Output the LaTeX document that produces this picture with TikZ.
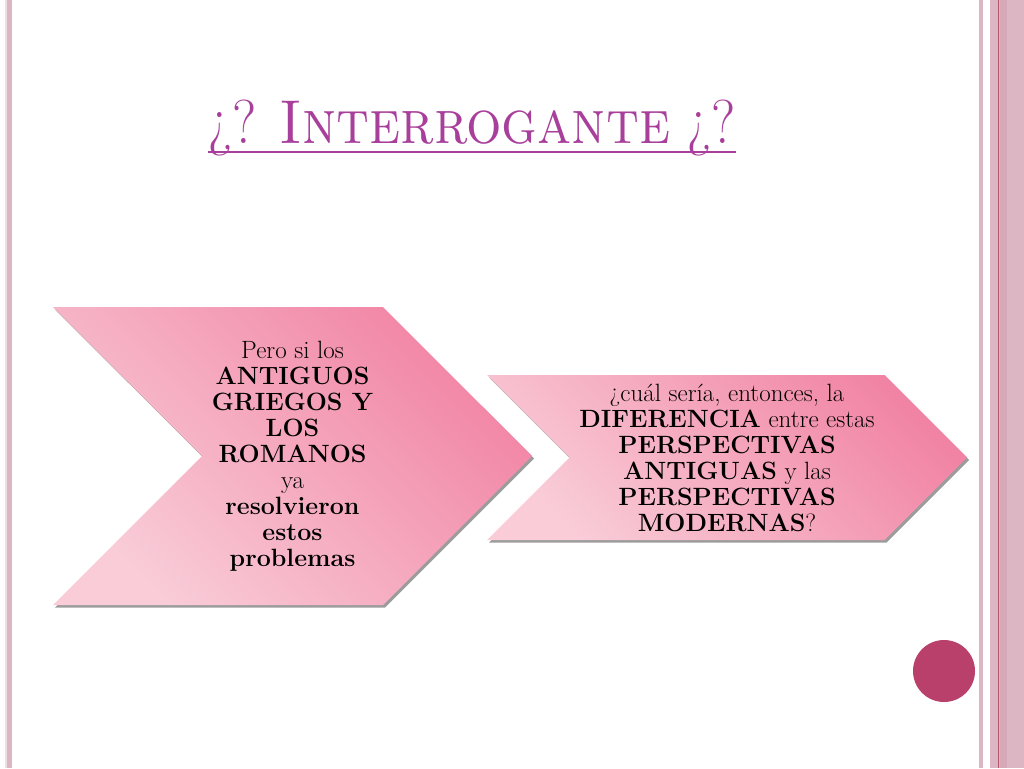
\documentclass[tikz,border=0pt]{standalone}
\usepackage{fontspec}
\usepackage{tikz}
\usetikzlibrary{calc,shapes.symbols,shadows}
\definecolor{titlecol}{HTML}{A8409B}
\definecolor{chevlight}{HTML}{F9CCD8}
\definecolor{chevdark}{HTML}{F184A4}
\definecolor{stripe}{HTML}{DDB6C3}
\definecolor{stripelight}{HTML}{F0DCE3}
\definecolor{stripedk}{HTML}{D6A9B9}
\definecolor{stripeline}{HTML}{B5546F}
\definecolor{dotcol}{HTML}{B8406B}

\begin{document}
\begin{tikzpicture}[x=1pt,y=-1pt,
  chev/.style={shape=signal, signal from=west, signal to=east, signal pointer angle=90,
    inner sep=0pt, top color=chevdark, bottom color=chevlight, shading angle=-45,
    drop shadow={shadow xshift=2pt, shadow yshift=-2.5pt, fill=black!70, opacity=.55},
    align=center, font=\fontsize{25}{26}\selectfont}]
\useasboundingbox[fill=white] (0,0) rectangle (1024,768);
\fill[stripelight] (5,0) rectangle (7,768);
\fill[stripe] (7,0) rectangle (12,768);
\fill[stripe] (979,0) rectangle (983,768);
\fill[stripe] (990,0) rectangle (1024,768);
\fill[stripedk] (1000,0) rectangle (1007,768);
\draw[stripeline, line width=1.2pt] (998.5,0) -- (998.5,768);

\node[anchor=base, inner sep=0pt, text=titlecol, font=\fontsize{62}{70}\selectfont] (Q) at (472,143)
  {\scalebox{0.9}[1]{¿? \textsc{Interrogante} ¿?}};
\draw[titlecol, line width=2pt] ($(Q.base west)+(0,9)$) -- ($(Q.base east)+(0,9)$);

\node[chev, minimum width=479pt, minimum height=298pt] (C1) at (292.5,456)
  {Pero si los\\ \textbf{ANTIGUOS}\\ \textbf{GRIEGOS Y}\\ \textbf{LOS}\\ \textbf{ROMANOS}\\
   ya\\ \textbf{resolvieron}\\ \textbf{estos}\\ \textbf{problemas}};
\node[chev, minimum width=480pt, minimum height=165pt] (C2) at (727,457.5)
  {¿cuál sería, entonces, la\\ \textbf{DIFERENCIA} entre estas\\ \textbf{PERSPECTIVAS}\\
   \textbf{ANTIGUAS} y las\\ \textbf{PERSPECTIVAS}\\ \textbf{MODERNAS}?};

\node[circle, fill=dotcol, minimum size=62pt, inner sep=0pt] (P) at (944,671) {};
\end{tikzpicture}
\end{document}
